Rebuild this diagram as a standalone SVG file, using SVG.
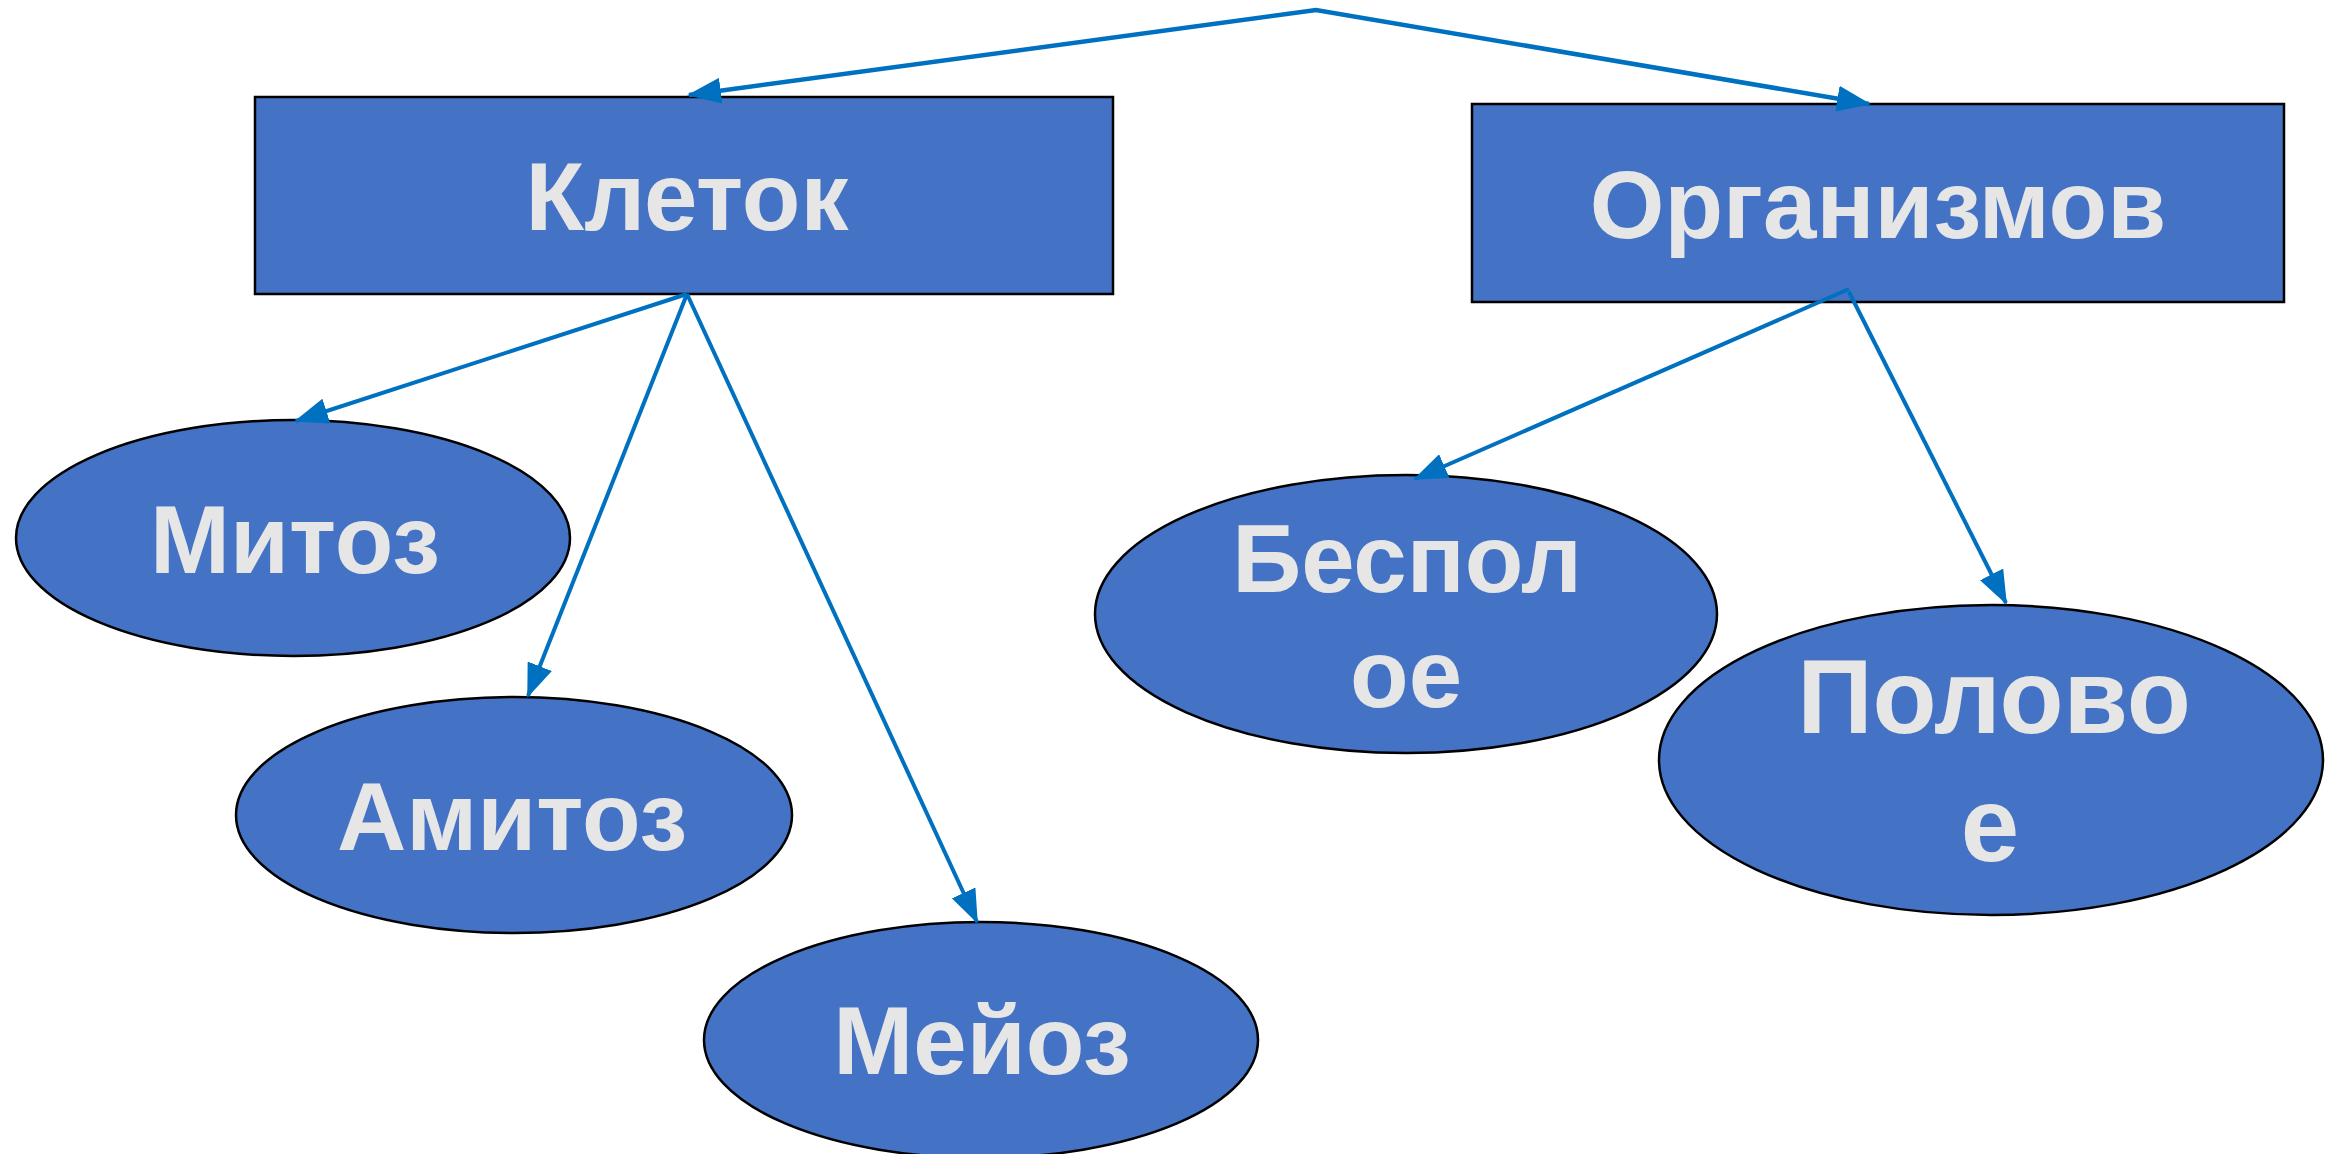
<svg xmlns="http://www.w3.org/2000/svg" width="2329" height="1154" viewBox="0 0 2329 1154">
  <style>
    .node { fill: #4472C4; stroke: #000000; stroke-width: 2.5; }
    .label { font-family: "Liberation Sans", Arial, sans-serif; font-weight: bold; font-size: 96px; fill: #E7E6E6; text-anchor: middle; }
    .big { font-size: 105px; }
    .conn { fill: none; stroke: #0070C0; stroke-width: 4.5; stroke-linejoin: miter; }
    .conn2 { fill: none; stroke: #0070C0; stroke-width: 4; }
  </style>
  <defs>
    <marker id="arrow" viewBox="0 0 34 26" refX="32" refY="13" markerWidth="34" markerHeight="26" markerUnits="userSpaceOnUse" orient="auto-start-reverse">
      <path d="M0,0 L34,13 L0,26 Z" fill="#0070C0"/>
    </marker>
  </defs>
  <rect width="2329" height="1154" fill="#FFFFFF"/>

  <g id="node-kletok">
    <rect class="node" x="255" y="97" width="858" height="197"/>
    <text class="label" x="687" y="230">Клеток</text>
  </g>
  <g id="node-organizmov">
    <rect class="node" x="1472" y="104" width="812" height="198"/>
    <text class="label" x="1878" y="238">Организмов</text>
  </g>
  <g id="node-mitoz">
    <ellipse class="node" cx="293" cy="538" rx="277" ry="118"/>
    <text class="label" x="295" y="573">Митоз</text>
  </g>
  <g id="node-amitoz">
    <ellipse class="node" cx="514" cy="815" rx="278" ry="118"/>
    <text class="label" x="512" y="850">Амитоз</text>
  </g>
  <g id="node-meioz">
    <ellipse class="node" cx="981" cy="1040" rx="277" ry="118"/>
    <text class="label" x="982" y="1074">Мейоз</text>
  </g>
  <g id="node-bespoloe">
    <ellipse class="node" cx="1406" cy="614" rx="311" ry="139"/>
    <text class="label" x="1407" y="592">Беспол</text>
    <text class="label" x="1406" y="707">ое</text>
  </g>
  <g id="node-polovoe">
    <ellipse class="node" cx="1991" cy="760" rx="332" ry="155"/>
    <text class="label big" x="1994" y="733">Полово</text>
    <text class="label big" x="1990" y="861">е</text>
  </g>

  <g id="connectors">
    <path class="conn" d="M689,95 L1316,10 L1869,104" marker-start="url(#arrow)" marker-end="url(#arrow)"/>
    <path class="conn2" d="M687,294 L296,421" marker-end="url(#arrow)"/>
    <path class="conn2" d="M687,294 L528,696" marker-end="url(#arrow)"/>
    <path class="conn2" d="M687,294 L977,922" marker-end="url(#arrow)"/>
    <path class="conn2" d="M1849,289 L1415,479" marker-end="url(#arrow)"/>
    <path class="conn2" d="M1849,292 L2006,603" marker-end="url(#arrow)"/>
  </g>
</svg>
